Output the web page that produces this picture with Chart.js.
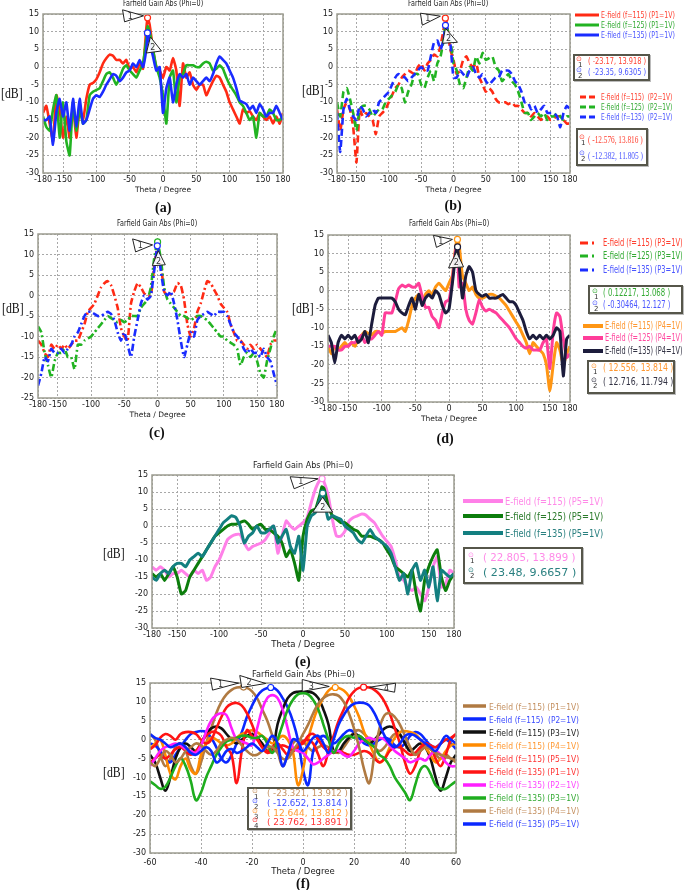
<!DOCTYPE html>
<html lang="en">
<head>
<meta charset="UTF-8">
<title>Farfield Gain Abs (Phi=0)</title>
<script src="https://cdn.jsdelivr.net/npm/chart.js"></script>
<style>
  body { margin:0; background:#fff; width:685px; height:890px; position:relative; overflow:hidden; }
  canvas { position:absolute; }
  .lab { position:absolute; white-space:pre; transform-origin:0 0; font-family:"Liberation Sans","DejaVu Sans",sans-serif; }
  .box { position:absolute; border:2px solid #56564a; box-sizing:border-box; background:#fff; box-shadow:1px 1px 0 #bbb; }
  svg { position:absolute; overflow:visible; }
</style>
</head>
<body>
<script>
// theta grids and ticks
const th5 = [-180,-175,-170,-165,-160,-155,-150,-145,-140,-135,-130,-125,-120,-115,-110,-105,-100,-95,-90,-85,-80,-75,-70,-65,-60,-55,-50,-45,-40,-35,-30,-25,-20,-15,-10,-5,0,5,10,15,20,25,30,35,40,45,50,55,60,65,70,75,80,85,90,95,100,105,110,115,120,125,130,135,140,145,150,155,160,165,170,175,180];
const th2 = [-60,-58,-56,-54,-52,-50,-48,-46,-44,-42,-40,-38,-36,-34,-32,-30,-28,-26,-24,-22,-20,-18,-16,-14,-12,-10,-8,-6,-4,-2,0,2,4,6,8,10,12,14,16,18,20,22,24,26,28,30,32,34,36,38,40,42,44,46,48,50,52,54,56,58,60];
const ins = (a, v) => a.concat([v]).sort((p, q) => p - q);
const thA = ins(th5, -23), thB = ins(th5, -12.5), thD = ins(th5, 12.5), thE = ins(th5, 22.5);

const xt180 = [-180,-150,-100,-50,0,50,100,150,180];
const xt60 = [-60,-40,-20,0,20,40,60];
const yt30 = [-30,-25,-20,-15,-10,-5,0,5,10,15];
const yt25 = [-25,-20,-15,-10,-5,0,5,10,15];

// (a) P1, f = 115 / 125 / 135
const aRed = [
  -13,-11,-16,-21,-8,-12,-20,-14,-20,-11,-20,-12,
  -15,-9,-5,-4.5,-3.5,-1.5,1,2.5,3.5,3.2,2,2,
  1,2,-0.5,0,-1.5,1,-0.5,11,13.9,12,5,0,-1,
  -3,0,-1,2.5,-1,-11,1,-3,-1.5,-5,-6.5,-5,
  -5,-8,-6,-4,-2.5,-3,-5,-7,-10,-12,-14,-16,
  -12,-13,-12.5,-14,-15,-13,-14,-15,-14,-16,-14,-16,
  -13];
const aGreen = [
  -14,-17,-18,-12,-8,-20,-10,-21,-25,-10,-18,-12,
  -16,-15,-8,-7,-6.5,-6,-4,-2,-1.5,-3,-5,-3,
  -0.5,0.5,-1,-2,-3,-1,1,8,11.5,10,5,0,-3,
  -8,-16,-3,-1,-10,-3,-2,0.5,0.5,0.5,0,0,
  1,1.5,1,-1,-0.5,0.5,-0.5,-3,-5,-6.5,-8,-10,
  -11,-13,-15,-14,-20,-13,-14,-14,-12,-13,-15,-15,
  -14];
const aBlue = [
  -15,-15,-14,-22,-13,-9,-14,-10,-18,-9,-17,-9,
  -16,-15,-12,-9,-8,-8.5,-7,-5,-3.5,-2,-2.5,-4,
  -3,-1.5,-1,1,0,2,0,5,9.6,7,3,-1,0,
  -13,-6,-3,-10,-5,-2,-3,-2,-5,-3,-4,-5,
  -4,-3,-4,-2,1,3,2,1,-1,-3,-6,-9.5,
  -10,-10.5,-12,-11,-13,-10.5,-12,-14,-13,-13,-11,-13,
  -15];

// (b) P2
const bRed = [
  -12,-18,-12,-10,-12,-17,-27,-12,-14,-13,-14,-15,
  -19,-14,-13,-12,-10,-8,-6,-5,-3,-2,-1,-1.5,
  -2,0,1,-1,1,2,3.5,3,6,11,13.8,12,5,
  2,-2,-1,2,3,1,0,1,-3,-5,-7,-6,
  -7,-9,-10,-10,-10,-10.5,-10,-11,-11,-12,-13,-13,
  -14,-13,-14,-15,-14,-14,-15,-14.5,-14,-14,-15,-16,
  -16];
const bGreen = [
  -10,-14,-7,-6,-9,-13,-18,-12,-11,-11,-12,-14,
  -13,-12,-12,-10,-9,-8,-7,-5,-6,-10,-7,-5,
  -2,-2,-5,-6,-3,-1,-4,1,3,8,12,11,8,
  1,-1,-5,-6,-3,0,-1,3,1,4,2,2.5,
  3,0,-1,-4,-3,-2,-4,-5,-7,-10,-13,-13,
  -15,-14,-13,-14,-13,-15,-14,-14,-13,-14,-15,-14,
  -14];
const bBlue = [
  -13,-24,-12,-9,-12,-14,-15,-11,-12,-14,-13,-12,
  -13,-10,-9,-8,-7,-5,-3,-2,-2.5,-3,-4,-3,
  -2,-1,0,-1,-1,3,7,7.5,5,8,11.8,11,7,
  -3,-3,-1,-2,-3,-1,0,-2,-3,-2,-4,-5,
  -4,-3,-3,-1,-1,-1,-2,-4,-5,-7,-10,-10,
  -12,-11,-13,-12,-11,-13,-13,-13,-14,-17,-13,-11,
  -12];

// (c) P3
const cRed = [
  -11,-12,-14,-15,-12,-13,-12,-13,-12,-13,-12,-11,
  -11,-9,-7,-4,-3,-2,0,2,3,3.5,2.5,0,
  -3,-8,-10,-11,-2,1,3,2,0.5,0,0,7,
  12,8,1,0,0.5,1,3,2.5,-1,-7,-10,-8,
  -4,-2,1,3.5,3,1.5,0,-2,-3,-4,-7,-9,
  -11,-11,-12,-13,-12,-13,-12,-13,-14,-15,-12,-11,
  -11];
const cGreen = [
  -7.5,-9,-14,-17,-20,-16,-14,-14,-13,-15,-15,-18,
  -12,-12,-11,-10.5,-10,-9,-8,-7,-6,-5,-5.5,-6,
  -6.5,-6,-6.5,-6,-5,-5,-5,-3,-2,-1,2,9,
  13,9,2,-1,-2,-3,-4,-5,-5,-5.5,-6,-5.5,
  -5,-5,-5.5,-6,-7,-8,-9,-10,-10,-11,-11.5,-12,
  -13,-17,-15,-14,-15,-14,-16,-19,-20,-16,-13,-10,
  -8];
const cBlue = [
  -22,-19,-15,-16,-13,-14,-14,-13,-14,-13,-12,-10,
  -9,-7,-5,-4,-4,-4.5,-5,-5,-4.5,-4,-4.5,-6,
  -9,-11,-9,-12,-15,-10,-6,-2,0,-1,0,6,
  12,6,1,0,1,-2,-6,-11,-15,-12,-9,-10,
  -6,-5,-4.5,-4,-4.5,-5,-4,-4,-4,-5,-7,-9,
  -10,-11,-13,-14,-13,-14,-14,-15,-13,-15,-16,-19,
  -22];

// (d) P4
const dOrange = [
  -15,-17,-15,-16,-15,-14,-15,-14,-15,-13,-12,-11,
  -11.5,-12,-11,-11,-11.5,-11,-11,-11,-11,-10.5,-10,-11,
  -8,-4,-2,-1,-3,-1,0,-1,1,2,1,0,
  2,4,12,13.8,12.5,4,2,0,1,-1,-2,-2,-1.5,
  -1,-1,-1.5,-2,-3,-4,-5.5,-7,-8.5,-10,-12,-14,
  -17,-14,-15,-16,-17,-20,-27,-20,-14,-16,-20,-17,
  -15];
const dPink = [
  -15,-15,-15,-16,-16,-15,-15,-14,-14,-13,-12,-14,
  -13,-13,-12,-11,-12,-6,-6,-6,-3,0.5,1.5,1,
  1.5,1,1,2,-1.5,-4.5,-4.5,-7,-8,-10,-6,-3,
  -2.5,3,11,11.5,1,2,-5,-8,-9,-6,-2.5,-4.5,-5.5,
  -5,-5.5,-6,-7,-8,-9,-10,-11.5,-13,-14,-15,-15.5,
  -15,-16,-16,-16,-14,-13,-21,-11,-6,-7,-13,-18,
  -17];
const dNavy = [
  -12,-14,-19.5,-14,-12,-13,-12,-13,-12,-14,-13,-11,
  -14,-9,-4,-2,-2,-2,-2,-2,-3,-5,-6,-6.5,
  -4,-2,-5,-1,-4,-2,-1,-2,0,-1,-4,-6,
  -5,2,10,11.8,7,-2,4,6.5,5,0,-1,-1.5,-1,
  -2,-2,-2,-1.5,-1,-2,-3,-3,-4,-6,-8,-11,
  -13,-12,-13,-12,-13,-12,-13,-12,-10,-11,-23,-13,
  -12];

// (e) P5
const ePink = [
  -12,-13,-12,-13,-15,-14,-14,-13,-14,-15,-13,-14,
  -13,-16,-15,-12,-10,-7,-4,-3,-2.5,-2.5,-5,-7,
  -6,-5.5,-5,-4,-2,0,-8,-3,1.5,0,-1,0,
  1,2.5,7,11,13.5,13.9,13,9,2,-3,-3,-1.5,1.5,
  2.5,3,3.5,3.2,2,1,-1,-3,-4.5,-6,-10,-15,
  -16,-18,-19,-18,-20,-22,-18,-12,-9,-18,-17,-13,
  -14];
const eGreen = [
  -14,-15,-14,-16,-14,-12,-15,-20,-19,-15,-13,-11,
  -9,-7,-5,-3,-2,-1,0,0.5,0.5,1,1.5,0.5,
  -1,0,0.5,-1,-1,-2,-3,-5,-9,-7,-11,-16,
  -3,2,4.5,5,9,11.5,11,6,3,2,1,1,0,
  -1,-1.5,-3,-3,-3,-3.5,-4,-5,-7,-9,-12,-13,
  -14,-15,-13,-20,-25,-16,-12,-9,-7,-15,-19,-16,
  -14];
const eTeal = [
  -15,-16,-14,-13,-14,-12,-11,-11,-12,-10,-9,-8,
  -9,-7,-5,-3,-1,1,2,3,2.5,0,-5,-3,
  -2,0,-2,-2,-1,0,-5,-3,-1,-6,-8,-3,
  -13,0,3,4,8,9.6,8,2,3,2.5,2,0,-1,
  -2,-4,-5,-3,-1,-3,-4,-5,-6,-8,-12,-16,
  -14,-20,-13,-11,-16,-13,-18,-12,-22,-13,-14,-15,
  -14];

// (f) all ports, f = 115 and 135, theta -60..60
const fBrown1 = [
  1.5,0,-4,-7,-5,-2,-1,-3,-7,-9,
  -6,-1,3,7,10,12,13.2,13.8,13.9,13.7,
  12.8,11,8,5,1,-3,-7,-4,-1,0,
  -0.5,-2,-3,-2,-1.5,-2,-3,-3.5,-2,0,
  2,2.5,1.5,0,-2,-3,-2,0,1.5,1,
  -1,-3,-4,-3,-2,-2.5,-4,-5,-4,-5,
  -6];
const fBlue1 = [
  -1,-1.5,-3,-5,-6,-4,-2,0,1.5,2,
  2.3,2,0.5,-2,-5,-6,-4,-1,2,6,
  9,11.5,13,13.7,13.8,13,11,8.5,5,0,
  -8,-12,-3,0,1,0,-1,0,1.5,2.5,
  2,0.5,-1,-1.5,-1,0,0.5,0,-1.5,-2,
  -1,1,2,1.5,0,-1.5,-2,-1,0,-1,
  -2.5];
const fBlack = [
  -4,-6,-10,-13.5,-10,-5,-2,-1,-2,-3,
  -1,1.5,3,3.5,3,1.5,0,-1,0,1,
  1.5,0.5,-1,-3,-3,4,8,11,12.3,12.7,
  12.8,12.7,12.3,11,8,4,-3,-3,-1,0.5,
  1.5,1,0,-1,0,1.5,3,3.5,3,1.5,
  -1,-3,-2,-1,-2,-5,-10,-13.5,-10,-6,
  -4];
const fOrange = [
  -2.5,-1,0,-4,-9,-10.5,-7,-5,-8,-9,
  -4,-1,0.5,0,-1,-1.5,-1,0.5,1.5,2,
  2.5,2,1,0,-1,0,1,0,-3,-12,
  -8,0,5,8.5,11,13,13.8,13.7,13,11.5,
  9,6,2,-1,-4,-6,-5,-2,0.5,2,
  2.3,2,1.5,0,-2,-4,-6,-5,-3,-1.5,
  -1];
const fRed5 = [
  -6,-5,-4,-5,-4,-2.5,-2,-3,-4,-3,
  -1,1,2,2,1,-2,-4,-11.5,-3,2.5,
  1,0,-2,-3.5,-3,-2,-1.5,-2,-3,-2,
  -0.5,0,-1,-4,-7,-3,1,5,8,11,
  12.8,13.7,13.9,13.8,13.2,12,10,7,3,-1,
  -6,-9,-7,-3,-1,-2,-5,-7,-4,0,
  1.5];
const fRed1 = [
  -2.5,-1.5,0.5,1.5,1,0,1.5,2,2,1.5,
  0,-1,0,3,6,8.5,9.5,9.7,9,7,
  4,0.5,-2,-3,-2,-1,-2.5,-4,-3,-1.5,
  -1,1,1.5,0,-2,-3,-3.5,-3,-3.5,-4,
  -4,-3.5,-3,-3.5,-5,-6,-5,-3,-2,-2,
  -3,-4,-3.5,-2,-1,-1.5,-2,-1,0,0.5,
  1.5];
const fMag = [
  -7,-5,-3,-2,-1.5,-1,-1.5,-2.5,-3,-3.5,
  -1.5,2,5,6.5,7,6.5,3,0,-0.5,-1,
  -1.5,3,8,11,11.8,11,8,3,-2,-3,
  -3.5,-5,-6.5,-6,-5,-4,-3,-3,-4,-4.5,
  -3,-1,0,0.5,0,0.5,0,-1.5,-3,-4,
  -5,-6,-5.5,-5,-5.5,-4,-3,-4,-6,-7,
  -7];
const fGreen = [
  -11,-12,-13,-12.5,-10,-7,-5,-7,-11,-16,
  -14,-10,-7,-4,-2,-0.5,0,0.5,1,1,
  0.5,0.5,1,-1,-3.5,0,4,8,10.5,12,
  12.3,12,10.5,8,4,0,-3.5,-1,0.5,1,
  0.5,1,0,-1,-2,-4,-5,-7,-10,-12,
  -14,-16,-12,-8,-7,-9,-12,-13,-13,-12,
  -11];
const fBrown2 = [
  -6,-7,-5,-3,-4,-6,-5,-3,-2,-1,
  -1.5,-3,-4,-3,-1,0,0.5,0,-1.5,-3,
  -4,-4,-3,-2,-2,-3.5,-5,-5,-3,-1,
  1.5,4,7,9.5,11,11.8,12,11.6,10,7,
  3,-2,-8,-11.5,-4,3,6.5,7,6,4,
  1,-2,-4,-3,-2,-2.5,-3.5,-4,-4.5,-5,
  -5.5];
const fBlue5 = [
  1.5,0.5,0,-1,-2,-1.5,-1,-2,-3.5,-4,
  -3,-2,-3,-6,-5,-3,-2.5,-3.5,-3,-2,
  -1,-2,-3,-1,1,-1,-7,-4,0,-0.5,
  -3,-1.5,0.5,1,-1,-3.5,0,4,6.5,8.5,
  9.5,9.8,9.7,9,7,4,1,-1,-2,-1,
  1,1.5,1,0,-1,-2,-3,-1,1,0,
  -1];

// marker readouts
const aMarks = [[-23.17, 13.918], [-23.35, 9.6305]];
const bMarks = [[-12.576, 13.816], [-12.382, 11.805]];
const cMarks = [[0.12217, 13.068], [-0.30464, 12.127]];
const dMarks = [[12.556, 13.814], [12.716, 11.794]];
const eMarks = [[22.805, 13.899], [23.48, 9.6657]];
const fMarks = [[-23.321, 13.912], [-12.652, 13.814], [12.644, 13.812], [23.762, 13.891]];

// legend labels
const legB1 = ['E-field (f=115) (P1=1V)', 'E-field (f=125) (P1=1V)', 'E-filed (f=135) (P1=1V)'];
const legB2 = ['E-field (f=115)  (P2=1V)', 'E-field (f=125)  (P2=1V)', 'E-field (f=135)  (P2=1V)'];
const legD1 = ['E-field (f=115) (P3=1V)', 'E-field (f=125) (P3=1V)', 'E-field (f=135) (P3=1V)'];
const legD2 = ['E-field (f=115) (P4=1V)', 'E-field (f=125) (P4=1V)', 'E-field (f=135) (P4=1V)'];
const legE = ['E-field (f=115) (P5=1V)', 'E-field (f=125) (P5=1V)', 'E-field (f=135) (P5=1V)'];
const legF = ['E-field (f=115) (P1=1V)', 'E-field (f=115)  (P2=1V)', 'E-field (f=115) (P3=1V)', 'E-field (f=115) (P4=1V)', 'E-field (f=115) (P5=1V)',
              'E-field (f=135) (P1=1V)', 'E-field (f=135) (P2=1V)', 'E-field (f=135) (P3=1V)', 'E-field (f=135) (P4=1V)', 'E-field (f=135) (P5=1V)'];

// colours
const RED = '#ff2a14', GRN = '#22b322', BLU = '#1a2cff';
const ORG = '#ff9614', PNK = '#ff3d99', NAV = '#1c1c3c';
const EPK = '#ff80e8', DGR = '#0c7d0c', TEA = '#137f80';
const BRN = '#b07a42', FBL = '#0a28ff', BLK = '#111111', FOR = '#ff8a00', FRD = '#ff1414', MAG = '#ff1eff', FGR = '#1ead1e';

const framePlugin = {
  id: 'frame',
  afterDraw(c, args, opts) {
    const ctx = c.ctx, a = c.chartArea;
    ctx.save();
    ctx.strokeStyle = '#9c9c90';
    ctx.lineWidth = 1.5;
    ctx.strokeRect(a.left, a.top, a.right - a.left, a.bottom - a.top);
    (opts.list || []).forEach(k => {
      const px = c.scales.x.getPixelForValue(k.at[0]);
      const py = c.scales.y.getPixelForValue(k.at[1]);
      const pts = k.v.map(d => [px + d[0], py + d[1]]);
      ctx.beginPath();
      ctx.moveTo(pts[0][0], pts[0][1]);
      ctx.lineTo(pts[1][0], pts[1][1]);
      ctx.lineTo(pts[2][0], pts[2][1]);
      ctx.closePath();
      ctx.fillStyle = 'rgba(255,255,255,0.92)';
      ctx.fill();
      ctx.strokeStyle = '#222';
      ctx.lineWidth = 1;
      ctx.stroke();
      const cx = (pts[0][0] + pts[1][0] + pts[2][0]) / 3;
      const cy = (pts[0][1] + pts[1][1] + pts[2][1]) / 3;
      ctx.fillStyle = '#333';
      ctx.font = '8px "DejaVu Sans"';
      ctx.textAlign = 'center';
      ctx.textBaseline = 'middle';
      ctx.fillText(k.n, cx, cy + 1);
    });
    ctx.restore();
  }
};

function panel(o) {
  const yw = 34, padT = 16, padR = 12;
  const W = o.box.r - o.box.l + yw + padR, H = o.box.b - o.box.t + padT + o.xh;
  const cv = document.createElement('canvas');
  cv.width = W; cv.height = H;
  cv.style.left = (o.box.l - yw) + 'px';
  cv.style.top = (o.box.t - padT) + 'px';
  document.body.appendChild(cv);
  const tickFont = {family: 'DejaVu Sans', size: 8};
  const n = o.series.length;
  const sets = o.series.map((s, i) => ({
    data: o.th.map((t, j) => ({x: t, y: s.v[j]})),
    borderColor: s.c, borderWidth: o.lw, borderDash: o.dash || [],
    tension: o.tension || 0, pointRadius: 0, fill: false, order: n - i + 1
  }));
  sets.push({
    data: o.marks.map(m => ({x: m[0], y: m[1]})), showLine: false, order: 0,
    pointRadius: 3, pointBorderWidth: 1.2, pointBorderColor: o.markCol,
    pointBackgroundColor: '#fff', clip: false
  });
  new Chart(cv, {
    type: 'line',
    data: {datasets: sets},
    options: {
      responsive: false, animation: false, events: [],
      layout: {padding: {top: padT, right: padR}},
      plugins: {legend: {display: false}, tooltip: {enabled: false},
                frame: {list: o.callouts.map(k => ({at: o.marks[k.m], v: k.v, n: k.n}))}},
      scales: {
        x: {
          type: 'linear', min: o.xr[0], max: o.xr[1],
          afterBuildTicks: s => { s.ticks = o.xt.map(v => ({value: v})); },
          afterFit: s => { s.height = o.xh; },
          grid: {color: '#a8a8a8', drawTicks: false},
          border: {display: false, dash: [2, 2]},
          ticks: {font: tickFont, color: '#1a1a1a', padding: o.tp, maxRotation: 0, autoSkip: false},
          title: {display: true, text: 'Theta / Degree', font: {family: 'DejaVu Sans', size: o.tfs},
                  color: '#1a1a1a', padding: {top: 0, bottom: o.xh - o.tt - o.tfs * 0.6}}
        },
        y: {
          min: o.yr[0], max: o.yr[1],
          afterBuildTicks: s => { s.ticks = o.yt.map(v => ({value: v})); },
          afterFit: s => { s.width = yw; },
          grid: {color: '#a8a8a8', drawTicks: false},
          border: {display: false, dash: [2, 2]},
          ticks: {font: tickFont, color: '#1a1a1a', padding: 4, autoSkip: false}
        }
      }
    },
    plugins: [framePlugin]
  });
}

function put(x, y, text, o) {
  const d = document.createElement('div');
  d.className = 'lab';
  d.textContent = text;
  const fs = o.fs || 9;
  d.style.fontSize = fs + 'px';
  d.style.lineHeight = Math.round(fs * 1.2) + 'px';
  d.style.color = o.col || '#222';
  if (o.fam) d.style.fontFamily = o.fam;
  if (o.bold) d.style.fontWeight = 'bold';
  document.body.appendChild(d);
  const w0 = d.offsetWidth, h0 = d.offsetHeight;
  const k = o.w ? o.w / w0 : 1;
  d.style.left = (o.center ? x - w0 * k / 2 : x) + 'px';
  d.style.top = (y - h0 / 2) + 'px';
  if (k !== 1) d.style.transform = 'scaleX(' + k + ')';
}

function sample(x1, x2, y, col, lw, dash) {
  const ns = 'http://www.w3.org/2000/svg';
  const s = document.createElementNS(ns, 'svg');
  s.setAttribute('width', x2 - x1);
  s.setAttribute('height', 10);
  s.style.left = x1 + 'px';
  s.style.top = (y - 5) + 'px';
  const l = document.createElementNS(ns, 'line');
  l.setAttribute('x1', 0); l.setAttribute('y1', 5);
  l.setAttribute('x2', x2 - x1); l.setAttribute('y2', 5);
  l.setAttribute('stroke', col);
  l.setAttribute('stroke-width', lw);
  if (dash) l.setAttribute('stroke-dasharray', dash);
  s.appendChild(l);
  document.body.appendChild(s);
}

function legend(rows, labels, cols, tcols, s) {
  labels.forEach((t, i) => {
    sample(s.x1, s.x2, rows[i], cols[i], s.lw, s.dash);
    put(s.tx, rows[i], t, {fs: s.fs, col: tcols[i], w: s.w, fam: '"Liberation Sans Narrow","DejaVu Sans Condensed",sans-serif'});
  });
}

function markBox(b, rows, marks, cols, s) {
  const d = document.createElement('div');
  d.className = 'box';
  d.style.cssText = 'left:' + b[0] + 'px;top:' + b[1] + 'px;width:' + b[2] + 'px;height:' + b[3] + 'px';
  document.body.appendChild(d);
  marks.forEach((m, i) => {
    put(s.ix, rows[i] - 2, '\u2299', {fs: 7, col: cols[i], fam: 'DejaVu Sans'});
    put(s.ix + 2, rows[i] + 4, String(i + 1), {fs: 7, col: '#333', fam: 'DejaVu Sans'});
    put(s.tx, rows[i], '( ' + m[0] + ', ' + m[1] + ' )', {fs: s.fs, col: cols[i], w: s.w, fam: s.fam || '"Liberation Sans Narrow","DejaVu Sans Condensed",sans-serif'});
  });
}

// ---- plots ----
panel({box: {l: 43, t: 14, r: 283, b: 173}, th: thA, xr: [-180, 180], xt: xt180, yr: [-30, 15], yt: yt30,
  xh: 26, tp: 2.5, tt: 17, tfs: 7.5, lw: 2.6, tension: 0.15,
  series: [{v: aRed, c: RED}, {v: aGreen, c: GRN}, {v: aBlue, c: BLU}],
  marks: aMarks, markCol: [RED, BLU],
  callouts: [{m: 0, n: '1', v: [[-25, -8], [-23, 4], [-4, -2]]}, {m: 1, n: '2', v: [[3, 4], [-1, 20], [14, 18]]}]});

panel({box: {l: 337, t: 14, r: 570, b: 173}, th: thB, xr: [-180, 180], xt: xt180, yr: [-30, 15], yt: yt30,
  xh: 26, tp: 2.5, tt: 17, tfs: 7.5, lw: 2.6, tension: 0.15, dash: [7, 4],
  series: [{v: bRed, c: RED}, {v: bGreen, c: GRN}, {v: bBlue, c: BLU}],
  marks: bMarks, markCol: [RED, BLU],
  callouts: [{m: 0, n: '1', v: [[-25, -5], [-23, 7], [-5, -2]]}, {m: 1, n: '2', v: [[0, 3], [-3, 18], [12, 17]]}]});

panel({box: {l: 38, t: 234, r: 277, b: 398}, th: th5, xr: [-180, 180], xt: xt180, yr: [-25, 15], yt: yt25,
  xh: 26, tp: 2.5, tt: 17, tfs: 7.5, lw: 2.6, tension: 0.15, dash: [7, 3, 2, 3],
  series: [{v: cRed, c: RED}, {v: cGreen, c: GRN}, {v: cBlue, c: BLU}],
  marks: cMarks, markCol: [GRN, BLU],
  callouts: [{m: 0, n: '1', v: [[-25, -3], [-22, 10], [-5, 3]]}, {m: 1, n: '2', v: [[1, 5], [-5, 20], [8, 19]]}]});

panel({box: {l: 328, t: 235, r: 570, b: 402}, th: thD, xr: [-180, 180], xt: xt180, yr: [-30, 15], yt: yt30,
  xh: 26, tp: 2.5, tt: 17, tfs: 7.5, lw: 3, tension: 0.15,
  series: [{v: dOrange, c: ORG}, {v: dPink, c: PNK}, {v: dNavy, c: NAV}],
  marks: dMarks, markCol: [ORG, NAV],
  callouts: [{m: 0, n: '1', v: [[-24, -4], [-21, 8], [-5, 0]]}, {m: 1, n: '2', v: [[-1, 5], [-9, 21], [6, 20]]}]});

panel({box: {l: 152, t: 475, r: 454, b: 628}, th: thE, xr: [-180, 180], xt: xt180, yr: [-30, 15], yt: yt30,
  xh: 26, tp: 2.5, tt: 17, tfs: 8.5, lw: 3, tension: 0.15,
  series: [{v: ePink, c: EPK}, {v: eGreen, c: DGR}, {v: eTeal, c: TEA}],
  marks: eMarks, markCol: [EPK, TEA],
  callouts: [{m: 0, n: '1', v: [[-32, -2], [-28, 10], [-4, 0]]}, {m: 1, n: '2', v: [[0, 4], [-10, 19], [10, 19]]}]});

panel({box: {l: 150, t: 683, r: 456, b: 853}, th: th2, xr: [-60, 60], xt: xt60, yr: [-30, 15], yt: yt30,
  xh: 28, tp: 5, tt: 19, tfs: 8.5, lw: 2.6, tension: 0.4,
  series: [{v: fBrown1, c: BRN}, {v: fBlue1, c: FBL}, {v: fBlack, c: BLK}, {v: fOrange, c: FOR}, {v: fRed5, c: FRD},
           {v: fRed1, c: FRD}, {v: fMag, c: MAG}, {v: fGreen, c: FGR}, {v: fBrown2, c: BRN}, {v: fBlue5, c: FBL}],
  marks: fMarks, markCol: [BRN, FBL, FOR, FRD],
  callouts: [{m: 0, n: '1', v: [[-33, -9], [-31, 3], [-5, -4]]}, {m: 1, n: '2', v: [[-31, -12], [-29, 0], [-5, -4]]},
             {m: 2, n: '3', v: [[-33, -8], [-33, 4], [-6, -1]]}, {m: 3, n: '4', v: [[6, 0], [32, -4], [31, 5]]}]});

// ---- titles, axis names, captions ----
const ttl = 'Farfield Gain Abs (Phi=0)';
[[163, 4, 80, 8], [448, 4, 80, 8], [157, 224, 80, 8], [449, 224, 80, 8], [303, 464, 100, 9.5], [303, 673, 103, 9.5]]
  .forEach(t => put(t[0], t[1], ttl, {fs: t[3], w: t[2], center: true, fam: 'DejaVu Sans', col: '#222'}));

[[1, 93], [302, 90], [2, 308], [292, 308], [103, 553], [103, 772]]
  .forEach(p => put(p[0], p[1], '[dB]', {fs: 15, w: 22, fam: '"Liberation Serif",serif', col: '#111'}));

[['(a)', 163, 207], ['(b)', 453, 205], ['(c)', 157, 432], ['(d)', 445, 438], ['(e)', 303, 661], ['(f)', 303, 883]]
  .forEach(p => put(p[1], p[2], p[0], {fs: 14, bold: true, center: true, fam: '"Liberation Serif",serif', col: '#111'}));

// ---- legends & marker boxes ----
legend([15, 25, 35], legB1, [RED, GRN, BLU], ['#ff4030', '#33aa33', '#4a55ff'], {x1: 575, x2: 599, lw: 3, tx: 601, fs: 9, w: 74});
markBox([573, 54, 77, 27], [61, 72], aMarks, ['#ff4030', '#4a55ff'], {ix: 576, tx: 588, fs: 9, w: 58});
legend([97, 107, 117], legB2, [RED, GRN, BLU], ['#ff4030', '#33aa33', '#4a55ff'], {x1: 580, x2: 598, lw: 3, dash: '6,3', tx: 601, fs: 9, w: 71});
markBox([576, 128, 72, 38], [139, 155], bMarks, ['#ff4030', '#4a55ff'], {ix: 579, tx: 588, fs: 11, w: 55, fam: '"Liberation Serif",serif'});

legend([243, 256, 270], legD1, [RED, GRN, BLU], ['#ff4030', '#33aa33', '#4a55ff'], {x1: 580, x2: 596, lw: 3, dash: '8,4,2,10', tx: 603, fs: 10, w: 80});
markBox([588, 285, 95, 29], [293, 305], cMarks, ['#33aa33', '#4a55ff'], {ix: 592, tx: 603, fs: 10, w: 67});
legend([326, 338, 351], legD2, [ORG, PNK, NAV], ['#ff9933', '#ff4aa0', '#333344'], {x1: 583, x2: 603, lw: 4, tx: 605, fs: 10, w: 78});
markBox([587, 360, 88, 34], [368, 382], dMarks, ['#ff9933', '#333344'], {ix: 591, tx: 603, fs: 10, w: 70});

legend([501, 516, 533], legE, [EPK, DGR, TEA], ['#ff8ae8', '#2a7a2a', '#2a8080'], {x1: 463, x2: 503, lw: 4, tx: 505, fs: 11, w: 98});
markBox([463, 547, 120, 37], [557, 572], eMarks, ['#ff8ae8', '#2a8080'], {ix: 468, tx: 483, fs: 11, w: 93});

const fRows = legF.map((t, i) => 706 + i * 13.1);
legend(fRows, legF, [BRN, FBL, BLK, FOR, FRD, FRD, MAG, FGR, BRN, FBL],
  ['#c49060', '#3b4bff', '#222222', '#ff9933', '#ff3333', '#ff3333', '#ff44ff', '#33aa33', '#c49060', '#3b4bff'],
  {x1: 463, x2: 486, lw: 3.5, tx: 489, fs: 9.5, w: 90});
markBox([247, 787, 105, 43], [793, 803, 813, 822], fMarks, ['#c49060', '#3b4bff', '#ff9933', '#ff3333'], {ix: 252, tx: 267, fs: 8.5, w: 81});
</script>
</body>
</html>
